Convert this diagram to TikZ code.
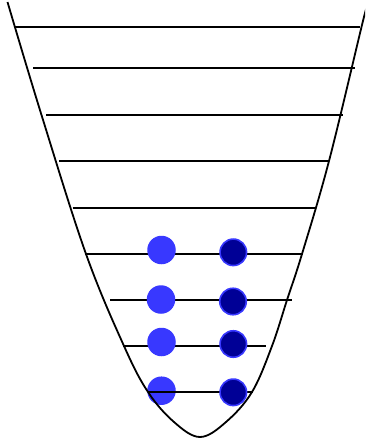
\documentclass[tikz,border=0pt]{standalone}
\begin{document}
\begin{tikzpicture}[x=1pt,y=-1pt,
  level/.style={line width=1.7pt,black},
  well/.style={line width=1.8pt,black},
  lightdot/.style={circle,fill={rgb,255:red,56;green,56;blue,255},minimum size=28.5pt,inner sep=0pt},
  darkdot/.style={circle,fill={rgb,255:red,0;green,0;blue,150},draw={rgb,255:red,56;green,56;blue,255},line width=1.6pt,minimum size=26.5pt,inner sep=0pt}]
\useasboundingbox (0,0) rectangle (365,439);
\clip (0,0) rectangle (365,439);
% energy levels
\draw[level] (15,27) -- (360,27);
\draw[level] (33,68) -- (355,68);
\draw[level] (46,115) -- (342.7,115);
\draw[level] (59,161) -- (329,161);
\draw[level] (72.7,208) -- (316,208);
\draw[level] (85,254) -- (303,254);
\draw[level] (110,300) -- (291.5,300);
\draw[level] (123.3,346) -- (265.7,346);
% particles
\node[lightdot] (l1) at (161.5,250) {};
\node[darkdot]  (d1) at (233.3,252.3) {};
\node[lightdot] (l2) at (161,299.5) {};
\node[darkdot]  (d2) at (233,301.5) {};
\node[lightdot] (l3) at (161.5,342) {};
\node[darkdot]  (d3) at (233.3,344) {};
\node[lightdot] (l4) at (161.5,390.7) {};
% potential well
\draw[well] plot[smooth,tension=0.6] coordinates {(7.5,2) (41.5,115) (86,254) (124,346) (148,392) (174,422) (200,437) (226,422) (252,392) (272,346) (287,300) (302,254) (329,161) (361.5,27) (366,10)};
\draw[level] (148,392) -- (253,392);
\node[darkdot]  (d4) at (233.3,392.3) {};
\end{tikzpicture}
\end{document}
